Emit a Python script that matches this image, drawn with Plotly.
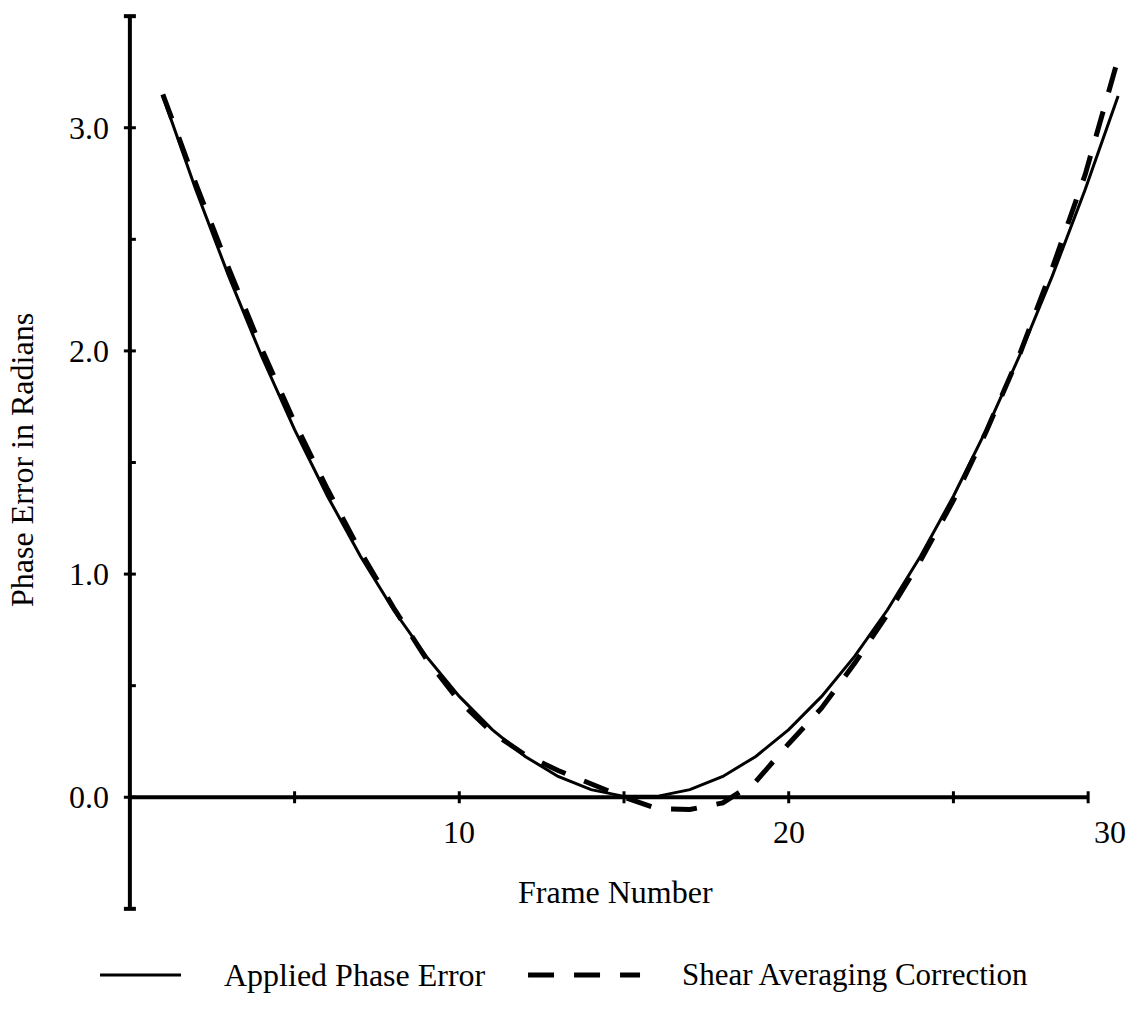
import plotly.graph_objects as go

# ---- data ----
frames = list(range(1, 31))
applied_phase_error = [3.142, 2.723, 2.335, 1.976, 1.647, 1.349, 1.080, 0.840, 0.631, 0.452,
                       0.303, 0.183, 0.093, 0.034, 0.004, 0.004, 0.034, 0.093, 0.183, 0.303,
                       0.452, 0.631, 0.840, 1.080, 1.349, 1.647, 1.976, 2.335, 2.723, 3.142]
shear_averaging = [3.15, 2.75, 2.37, 2.01, 1.68, 1.38, 1.10, 0.85, 0.62, 0.43,
                   0.29, 0.19, 0.12, 0.06, 0.00, -0.05, -0.055, -0.025, 0.07, 0.24,
                   0.40, 0.60, 0.82, 1.06, 1.33, 1.64, 1.98, 2.37, 2.79, 3.31]

x_ticks = [5, 10, 15, 20, 25]
x_tick_labels = {10: "10", 20: "20", 30: "30"}
y_major = [0.0, 1.0, 2.0, 3.0]
y_major_labels = ["0.0", "1.0", "2.0", "3.0"]
y_minor = [0.5, 1.5, 2.5]
x_axis_end = 29.09
y_axis_span = [-0.5, 3.5]
y_range = [-0.55, 3.55]
x_range = [-0.3, 30.3]

FONT = "Liberation Serif"
FS = 32
FS_LEG = 31

fig = go.Figure()
fig.add_trace(go.Scatter(x=frames, y=applied_phase_error, mode="lines",
                         line=dict(color="black", width=3), showlegend=False, hoverinfo="skip"))
fig.add_trace(go.Scatter(x=frames, y=shear_averaging, mode="lines",
                         line=dict(color="black", width=5, dash="26px,20px"), showlegend=False,
                         hoverinfo="skip"))

AXW = 4
shapes = []
# y axis line and end caps
shapes.append(dict(type="line", xref="x", yref="y", x0=0, x1=0, y0=y_axis_span[0], y1=y_axis_span[1],
                   line=dict(color="black", width=AXW)))
for v in y_axis_span:
    shapes.append(dict(type="line", xref="x", yref="y", xsizemode="pixel", xanchor=0,
                       x0=-6, x1=6, y0=v, y1=v, line=dict(color="black", width=4)))
for v in y_major:
    shapes.append(dict(type="line", xref="x", yref="y", xsizemode="pixel", xanchor=0,
                       x0=-6, x1=6, y0=v, y1=v, line=dict(color="black", width=3)))
for v in y_minor:
    shapes.append(dict(type="line", xref="x", yref="y", xsizemode="pixel", xanchor=0,
                       x0=0, x1=6, y0=v, y1=v, line=dict(color="black", width=3)))
# x axis line along y=0 and ticks
shapes.append(dict(type="line", xref="x", yref="y", x0=0, x1=x_axis_end, y0=0, y1=0,
                   line=dict(color="black", width=AXW)))
for v in x_ticks + [x_axis_end]:
    shapes.append(dict(type="line", xref="x", yref="y", ysizemode="pixel", yanchor=0,
                       y0=-6, y1=6, x0=v, x1=v, line=dict(color="black", width=3)))

# legend samples (paper coords)
LEG_Y = -0.0601
shapes.append(dict(type="line", xref="paper", yref="paper", x0=-0.0198, x1=0.0605, y0=LEG_Y, y1=LEG_Y,
                   line=dict(color="black", width=3)))
shapes.append(dict(type="line", xref="paper", yref="paper", x0=0.4048, x1=0.5159, y0=LEG_Y, y1=LEG_Y,
                   line=dict(color="black", width=5, dash="26px,20px")))

annotations = []
for v, t in zip(y_major, y_major_labels):
    annotations.append(dict(x=0, y=v, xref="x", yref="y", text=t, showarrow=False,
                            xanchor="right", yanchor="middle", xshift=-19,
                            font=dict(family=FONT, size=FS, color="black")))
for v, t in x_tick_labels.items():
    annotations.append(dict(x=v, y=0, xref="x", yref="y", text=t, showarrow=False,
                            xanchor="center", yanchor="top", yshift=-15,
                            xshift=-8 if v == 30 else 0,
                            font=dict(family=FONT, size=FS, color="black")))
annotations.append(dict(x=0.492, y=0.0306, xref="paper", yref="paper", text="Frame Number",
                        showarrow=False, xanchor="center", yanchor="middle",
                        font=dict(family=FONT, size=FS, color="black")))
annotations.append(dict(x=-0.0972, y=0.5027, xref="paper", yref="paper", text="Phase Error in Radians",
                        showarrow=False, xanchor="center", yanchor="middle", textangle=-90,
                        font=dict(family=FONT, size=FS, color="black")))
annotations.append(dict(x=0.1012, y=LEG_Y, xref="paper", yref="paper", text="Applied Phase Error",
                        showarrow=False, xanchor="left", yanchor="middle",
                        font=dict(family=FONT, size=FS_LEG + 1, color="black")))
annotations.append(dict(x=0.5556, y=LEG_Y, xref="paper", yref="paper", text="Shear Averaging Correction",
                        showarrow=False, xanchor="left", yanchor="middle",
                        font=dict(family=FONT, size=FS_LEG, color="black")))

axis_common = dict(showgrid=False, zeroline=False, showline=False, showticklabels=False, ticks="",
                   fixedrange=True)
fig.update_layout(
    width=1139, height=1011,
    margin=dict(l=120, r=11, t=5, b=91),
    paper_bgcolor="white", plot_bgcolor="white",
    xaxis=dict(range=x_range, **axis_common),
    yaxis=dict(range=y_range, **axis_common),
    shapes=shapes, annotations=annotations,
    showlegend=False, hovermode=False,
)
fig.write_html("out.html", config={"displayModeBar": False},
               post_script="document.body.style.margin='0';")
